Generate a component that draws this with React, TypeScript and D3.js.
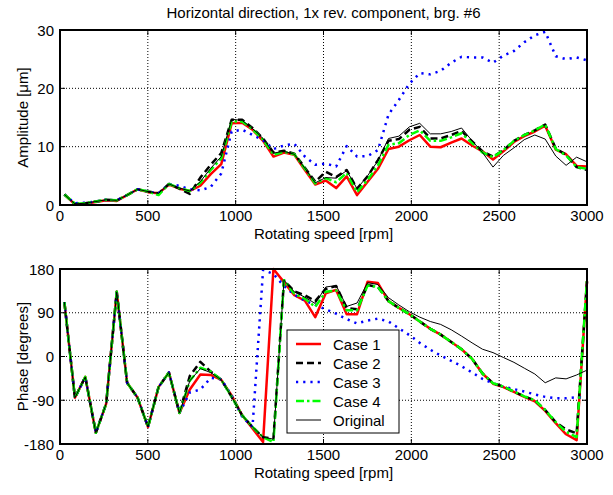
import React from "react";
import * as d3 from "d3";

const rpm = [25, 85, 144, 204, 263, 323, 382, 442, 501, 561, 620, 680, 739, 799, 858, 918, 977, 1037, 1096, 1156, 1215, 1275, 1334, 1394, 1453, 1513, 1572, 1632, 1691, 1751, 1810, 1870, 1929, 1989, 2048, 2108, 2167, 2227, 2286, 2346, 2405, 2465, 2524, 2584, 2643, 2703, 2762, 2822, 2881, 2941, 3000];

const ampCase1 = [1.8, 0.1, 0.2, 0.5, 0.8, 0.7, 1.7, 2.7, 2.2, 2.0, 3.5, 2.8, 2.4, 3.3, 5.3, 7.0, 14.0, 14.1, 12.9, 11.0, 8.3, 9.0, 8.6, 6.0, 3.5, 4.2, 2.9, 4.9, 1.7, 4.0, 6.2, 9.6, 10.0, 11.1, 12.0, 10.0, 9.9, 10.7, 11.4, 10.2, 9.2, 7.8, 9.2, 10.8, 11.8, 12.6, 13.6, 9.5, 8.7, 6.7, 6.6];
const ampCase2 = [1.8, 0.2, 0.3, 0.6, 0.9, 0.8, 1.7, 2.7, 2.3, 2.0, 3.6, 2.8, 1.9, 4.7, 6.9, 8.9, 14.6, 14.6, 13.2, 11.4, 9.0, 9.3, 8.8, 6.4, 4.0, 5.7, 4.8, 6.0, 2.8, 4.9, 7.7, 11.0, 11.3, 12.9, 13.4, 11.4, 11.4, 12.0, 12.7, 10.9, 9.2, 8.3, 9.4, 11.0, 12.0, 12.8, 13.8, 9.7, 8.6, 6.5, 6.0];
const ampCase3 = [1.8, 0.3, 0.4, 0.6, 0.9, 0.8, 1.7, 2.7, 2.3, 2.0, 3.6, 3.3, 2.7, 2.5, 3.1, 5.4, 12.6, 12.9, 12.0, 11.1, 9.6, 10.2, 10.5, 8.3, 6.9, 7.1, 6.6, 10.1, 8.3, 8.4, 9.4, 15.5, 18.0, 20.8, 22.6, 22.4, 23.0, 24.4, 25.4, 25.3, 25.3, 24.4, 25.6, 26.4, 27.9, 29.1, 29.7, 25.5, 25.0, 25.3, 24.8];
const ampCase4 = [1.8, 0.2, 0.3, 0.6, 0.9, 0.8, 1.7, 2.7, 2.3, 1.7, 3.6, 2.9, 2.4, 3.8, 6.0, 8.0, 14.3, 14.3, 13.0, 11.2, 8.6, 9.1, 8.7, 6.2, 3.7, 4.6, 3.9, 5.5, 2.2, 4.3, 6.8, 10.3, 10.6, 12.0, 12.8, 11.0, 11.0, 11.6, 12.3, 10.6, 9.0, 8.2, 9.4, 11.0, 12.0, 12.8, 13.8, 9.6, 8.5, 6.5, 6.2];
const ampOrig = [1.8, 0.2, 0.3, 0.6, 0.9, 0.8, 1.7, 2.7, 2.3, 2.0, 3.6, 2.9, 2.4, 4.0, 6.3, 8.3, 14.7, 14.5, 13.1, 11.4, 8.9, 9.2, 8.7, 6.3, 3.8, 4.7, 4.6, 5.9, 2.8, 5.0, 7.6, 11.4, 11.8, 13.4, 14.0, 12.2, 12.2, 12.6, 13.2, 11.0, 9.0, 6.5, 8.5, 9.8, 11.2, 12.0, 11.3, 8.4, 6.8, 8.2, 7.4];

const phCase1 = [112, -85, -42, -157, -97, 133, -54, -85, -145, -63, -33, -116, -68, -37, -38, -48, -80, -121, -148, -176, 180, 153, 126, 115, 81, 130, 137, 87, 87, 154, 151, 114, 100, 87, 72, 57, 45, 30, 15, -5, -35, -56, -63, -73, -83, -92, -112, -137, -160, -172, 155];
const phCase2 = [112, -85, -42, -157, -97, 133, -54, -85, -145, -63, -33, -116, -40, -11, -31, -48, -83, -121, -145, -166, -169, 157, 134, 126, 114, 139, 145, 100, 97, 147, 143, 114, 100, 87, 72, 57, 45, 30, 15, -5, -35, -55, -62, -72, -82, -90, -110, -135, -150, -158, 155];
const phCase3 = [112, -85, -42, -157, -97, 133, -54, -85, -145, -63, -33, -116, -74, -68, -44, -47, -80, -124, -145, 178, 170, 145, 127, 115, 106, 97, 88, 77, 68, 74, 78, 72, 58, 44, 28, 14, 2, -9, -20, -33, -46, -55, -62, -67, -72, -78, -83, -86, -86, -84, -85];
const phCase4 = [112, -85, -42, -157, -97, 133, -54, -85, -145, -63, -33, -116, -50, -23, -31, -48, -83, -121, -145, -166, -176, 157, 129, 119, 102, 133, 136, 95, 95, 146, 143, 114, 100, 87, 72, 57, 45, 30, 15, -5, -35, -55, -62, -72, -82, -90, -110, -135, -155, -166, 160];
const phOrig = [112, -85, -42, -157, -97, 133, -54, -85, -145, -63, -33, -116, -50, -25, -33, -48, -83, -121, -145, -166, -170, 157, 133, 122, 109, 143, 146, 103, 110, 152, 148, 121, 106, 92, 81, 72, 66, 55, 42, 28, 15, 8, -2, -12, -24, -36, -54, -44, -46, -38, -28];

const xTicks = [0, 500, 1000, 1500, 2000, 2500, 3000];
const ampTicks = [0, 10, 20, 30];
const phTicks = [-180, -90, 0, 90, 180];
const legendNames = ["Case 1", "Case 2", "Case 3", "Case 4", "Original"];

const FONT = "'Liberation Sans', Arial, Helvetica, sans-serif";

const styles = [
  { stroke: "#ff0000", width: 2.5, dash: undefined as string | undefined },
  { stroke: "#000000", width: 2.5, dash: "7,4" },
  { stroke: "#0000ff", width: 2.5, dash: "2.2,5" },
  { stroke: "#00ff00", width: 2.5, dash: "8,3,2.5,3" },
  { stroke: "#000000", width: 1, dash: undefined as string | undefined },
];

const xScale = d3.scaleLinear().domain([0, 3000]).range([60, 587]);

function Panel(props: {
  top: number;
  bottom: number;
  domain: [number, number];
  ticks: number[];
  series: number[][];
  ylabel: string;
  legend?: boolean;
}) {
  const { top, bottom, domain, ticks, series, ylabel, legend } = props;
  const y = d3.scaleLinear().domain(domain).range([bottom, top]);
  const left = 60;
  const right = 587;
  const line = d3
    .line<number>()
    .x((_, i) => xScale(rpm[i]))
    .y((d) => y(d));
  const tickLen = 5;
  return (
    <g>
      {/* grid */}
      {xTicks.slice(1, -1).map((t) => (
        <line key={"gx" + t} x1={xScale(t)} x2={xScale(t)} y1={top} y2={bottom} stroke="#000" strokeWidth={1} strokeDasharray="1,2" />
      ))}
      {ticks.slice(1, -1).map((t) => (
        <line key={"gy" + t} x1={left} x2={right} y1={y(t)} y2={y(t)} stroke="#000" strokeWidth={1} strokeDasharray="1,2" />
      ))}
      {/* series */}
      {series.map((s, k) => (
        <path key={"s" + k} d={line(s) || ""} fill="none" stroke={styles[k].stroke} strokeWidth={styles[k].width} strokeDasharray={styles[k].dash} strokeLinejoin="round" />
      ))}
      {/* ticks */}
      {xTicks.map((t) => (
        <g key={"tx" + t}>
          <line x1={xScale(t)} x2={xScale(t)} y1={bottom} y2={bottom - tickLen} stroke="#000" strokeWidth={1} />
          <line x1={xScale(t)} x2={xScale(t)} y1={top} y2={top + tickLen} stroke="#000" strokeWidth={1} />
          <text x={xScale(t)} y={bottom + 10} textAnchor="middle" dominantBaseline="central" fontSize={15} fontFamily={FONT}>
            {t}
          </text>
        </g>
      ))}
      {ticks.map((t) => (
        <g key={"ty" + t}>
          <line x1={left} x2={left + tickLen} y1={y(t)} y2={y(t)} stroke="#000" strokeWidth={1} />
          <line x1={right} x2={right - tickLen} y1={y(t)} y2={y(t)} stroke="#000" strokeWidth={1} />
          <text x={54} y={y(t)} textAnchor="end" dominantBaseline="central" fontSize={15} fontFamily={FONT}>
            {t}
          </text>
        </g>
      ))}
      <rect x={left} y={top} width={right - left} height={bottom - top} fill="none" stroke="#000" strokeWidth={2} />
      <text x={(left + right) / 2} y={bottom + 28} textAnchor="middle" dominantBaseline="central" fontSize={15} fontFamily={FONT}>
        Rotating speed [rpm]
      </text>
      <text transform={`translate(22,${(top + bottom) / 2}) rotate(-90)`} textAnchor="middle" dominantBaseline="central" fontSize={15} fontFamily={FONT}>
        {ylabel}
      </text>
      {legend && (
        <g>
          <rect x={287} y={330} width={112} height={103} fill="#fff" stroke="#000" strokeWidth={1} />
          {legendNames.map((n, k) => {
            const ly = 344 + k * 19;
            return (
              <g key={"lg" + k}>
                <line x1={296} x2={321} y1={ly} y2={ly} stroke={styles[k].stroke} strokeWidth={styles[k].width} strokeDasharray={styles[k].dash} />
                <text x={333} y={ly} dominantBaseline="central" fontSize={15} fontFamily={FONT}>
                  {n}
                </text>
              </g>
            );
          })}
        </g>
      )}
    </g>
  );
}

export default function App() {
  return (
    <svg width={613} height={495} style={{ position: "absolute", left: 0, top: 0, background: "#fff" }}>
      <rect x={0} y={0} width={613} height={495} fill="#fff" />
      <text x={323.5} y={12} textAnchor="middle" dominantBaseline="central" fontSize={15} fontFamily={FONT}>
        Horizontal direction, 1x rev. component, brg. #6
      </text>
      <Panel top={30} bottom={205} domain={[0, 30]} ticks={ampTicks} series={[ampCase1, ampCase2, ampCase3, ampCase4, ampOrig]} ylabel={"Amplitude [\u03bcm]"} />
      <Panel top={269} bottom={444} domain={[-180, 180]} ticks={phTicks} series={[phCase1, phCase2, phCase3, phCase4, phOrig]} ylabel="Phase [degrees]" legend />
    </svg>
  );
}
